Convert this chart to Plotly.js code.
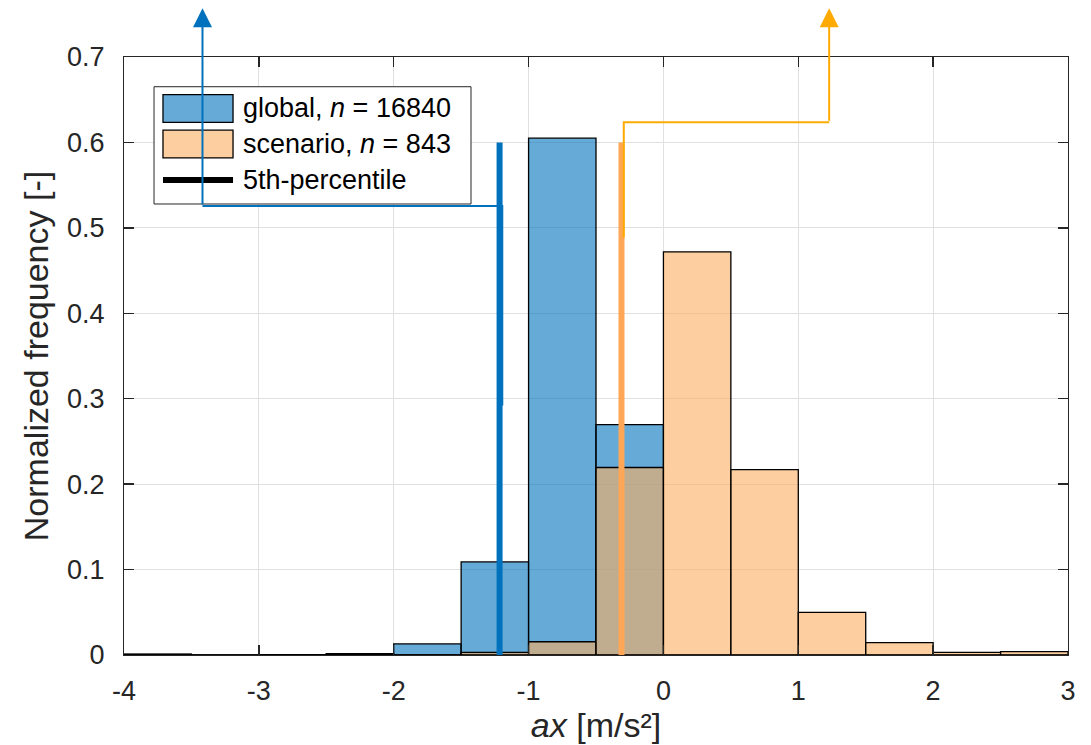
<!DOCTYPE html>
<html>
<head>
<meta charset="utf-8">
<script src="https://cdn.plot.ly/plotly-3.0.1.min.js"></script>
<style>html,body{margin:0;padding:0;background:#fff;}#chart{width:1091px;height:745px;}</style>
</head>
<body>
<div id="chart"></div>
<script>
// ---- data ----
const binCenters = [-3.75,-3.25,-2.75,-2.25,-1.75,-1.25,-0.75,-0.25,0.25,0.75,1.25,1.75,2.25,2.75];
const binWidth = 0.5;
const globalFreq   = [0.0008,0.0002,0.0003,0.0015,0.013,0.109,0.605,0.2697,0,0,0,0,0,0];
const scenarioFreq = [0.001,0,0,0.001,0,0.003,0.0155,0.2195,0.472,0.217,0.050,0.0144,0.003,0.004];
const seriesNames = ['global, <i>n</i> = 16840', 'scenario, <i>n</i> = 843', '5th-percentile'];
const percentileX = [-1.215, -0.311];      // global, scenario
const percentileTop = 0.6;
// shift indicator paths (x, y)
const globalShiftX = [-1.195, -1.195, -3.418];
const globalShiftY = [0.292, 0.5255, 0.5255];
const scenarioShiftX = [-0.294, -0.294, 1.229];
const scenarioShiftY = [0.4887, 0.6237, 0.6237];
const arrowTipY = 0.757;
const xTicks = [-4,-3,-2,-1,0,1,2,3];
const xTickText = ['-4','-3','-2','-1','0','1','2','3'];
const yTicks = [0,0.1,0.2,0.3,0.4,0.5,0.6,0.7];
const yTickText = ['0','0.1','0.2','0.3','0.4','0.5','0.6','0.7'];

const FONT = '"Liberation Sans", Arial, Helvetica, sans-serif';
const BLUE = 'rgb(0,114,189)';
const ORANGE_ARROW = 'rgb(255,170,0)';
const ORANGE_THICK = 'rgb(255,167,87)';

const traces = [
  {type:'bar', x: binCenters, y: globalFreq, width: binCenters.map(()=>binWidth),
   marker:{color:'rgba(0,114,189,0.6)', line:{color:'#000', width:1.3}}, showlegend:false, hoverinfo:'skip'},
  {type:'bar', x: binCenters, y: scenarioFreq, width: binCenters.map(()=>binWidth),
   marker:{color:'rgba(252,175,97,0.6)', line:{color:'#000', width:1.3}}, showlegend:false, hoverinfo:'skip'},
  {type:'scatter', mode:'lines', x:[percentileX[0],percentileX[0]], y:[0,percentileTop],
   line:{color:BLUE, width:6}, showlegend:false, hoverinfo:'skip'},
  {type:'scatter', mode:'lines', x:[percentileX[1],percentileX[1]], y:[0,percentileTop],
   line:{color:ORANGE_THICK, width:6}, showlegend:false, hoverinfo:'skip'},
  {type:'scatter', mode:'lines', x: globalShiftX, y: globalShiftY,
   line:{color:BLUE, width:2}, showlegend:false, hoverinfo:'skip'},
  {type:'scatter', mode:'lines', x: scenarioShiftX, y: scenarioShiftY,
   line:{color:ORANGE_ARROW, width:2}, showlegend:false, hoverinfo:'skip'}
];

// legend geometry in paper coords
const L = {x0:0.0318, x1:0.3676, y0:0.7542, y1:0.9503, px0:0.0413, px1:0.1155, tx:0.1239};
const rowY = [0.9139, 0.8545, 0.7943];
const patchH = 0.0232;

const shapes = [
  {type:'rect', xref:'paper', yref:'paper', x0:L.x0, x1:L.x1, y0:L.y0, y1:L.y1,
   fillcolor:'#fff', line:{color:'#262626', width:1}, layer:'above'},
  {type:'rect', xref:'paper', yref:'paper', x0:L.px0, x1:L.px1, y0:rowY[0]-patchH, y1:rowY[0]+patchH,
   fillcolor:'rgba(0,114,189,0.6)', line:{color:'#000', width:1.3}, layer:'above'},
  {type:'rect', xref:'paper', yref:'paper', x0:L.px0, x1:L.px1, y0:rowY[1]-patchH, y1:rowY[1]+patchH,
   fillcolor:'rgba(252,175,97,0.6)', line:{color:'#000', width:1.3}, layer:'above'},
  {type:'line', xref:'paper', yref:'paper', x0:L.px0, x1:L.px1, y0:rowY[2], y1:rowY[2],
   line:{color:'#000', width:6}, layer:'above'}
];

const annotations = rowY.map((y,i)=>({
  xref:'paper', yref:'paper', x:L.tx, y:y, xanchor:'left', yanchor:'middle',
  text: seriesNames[i], showarrow:false, font:{family:FONT, size:27, color:'#000'}
}));
annotations.push(
  {xref:'x', yref:'y', axref:'x', ayref:'y', x:globalShiftX[2], y:arrowTipY, ax:globalShiftX[2], ay:globalShiftY[2],
   text:'', showarrow:true, arrowhead:2, arrowsize:1.9, arrowwidth:2, arrowcolor:BLUE, standoff:0},
  {xref:'x', yref:'y', axref:'x', ayref:'y', x:scenarioShiftX[2], y:arrowTipY, ax:scenarioShiftX[2], ay:scenarioShiftY[2],
   text:'', showarrow:true, arrowhead:2, arrowsize:1.9, arrowwidth:2, arrowcolor:ORANGE_ARROW, standoff:0}
);

const axisCommon = {
  showline:true, mirror:'ticks', linecolor:'#262626', linewidth:1,
  ticks:'inside', ticklen:10, tickwidth:1.3, tickcolor:'#262626',
  showgrid:true, gridcolor:'#e0e0e0', gridwidth:1, zeroline:false,
  tickfont:{family:FONT, size:27, color:'#262626'}
};

const layout = {
  width:1091, height:745,
  margin:{l:124, r:23, t:57, b:90},
  paper_bgcolor:'#fff', plot_bgcolor:'#fff',
  barmode:'overlay', bargap:0,
  font:{family:FONT, color:'#262626'},
  xaxis: Object.assign({}, axisCommon, {
    range:[-4,3], tickmode:'array', tickvals:xTicks, ticktext:xTickText, ticklabelstandoff:12,
    title:{text:'<i>ax</i> [m/s²]', font:{family:FONT, size:34, color:'#262626'}, standoff:1}
  }),
  yaxis: Object.assign({}, axisCommon, {
    range:[0,0.7], tickmode:'array', tickvals:yTicks, ticktext:yTickText, ticklabelstandoff:13,
    title:{text:'Normalized frequency [-]', font:{family:FONT, size:34, color:'#262626'}, standoff:8}
  }),
  shapes: shapes,
  annotations: annotations
};

Plotly.newPlot('chart', traces, layout, {staticPlot:true, displayModeBar:false});
</script>
</body>
</html>
